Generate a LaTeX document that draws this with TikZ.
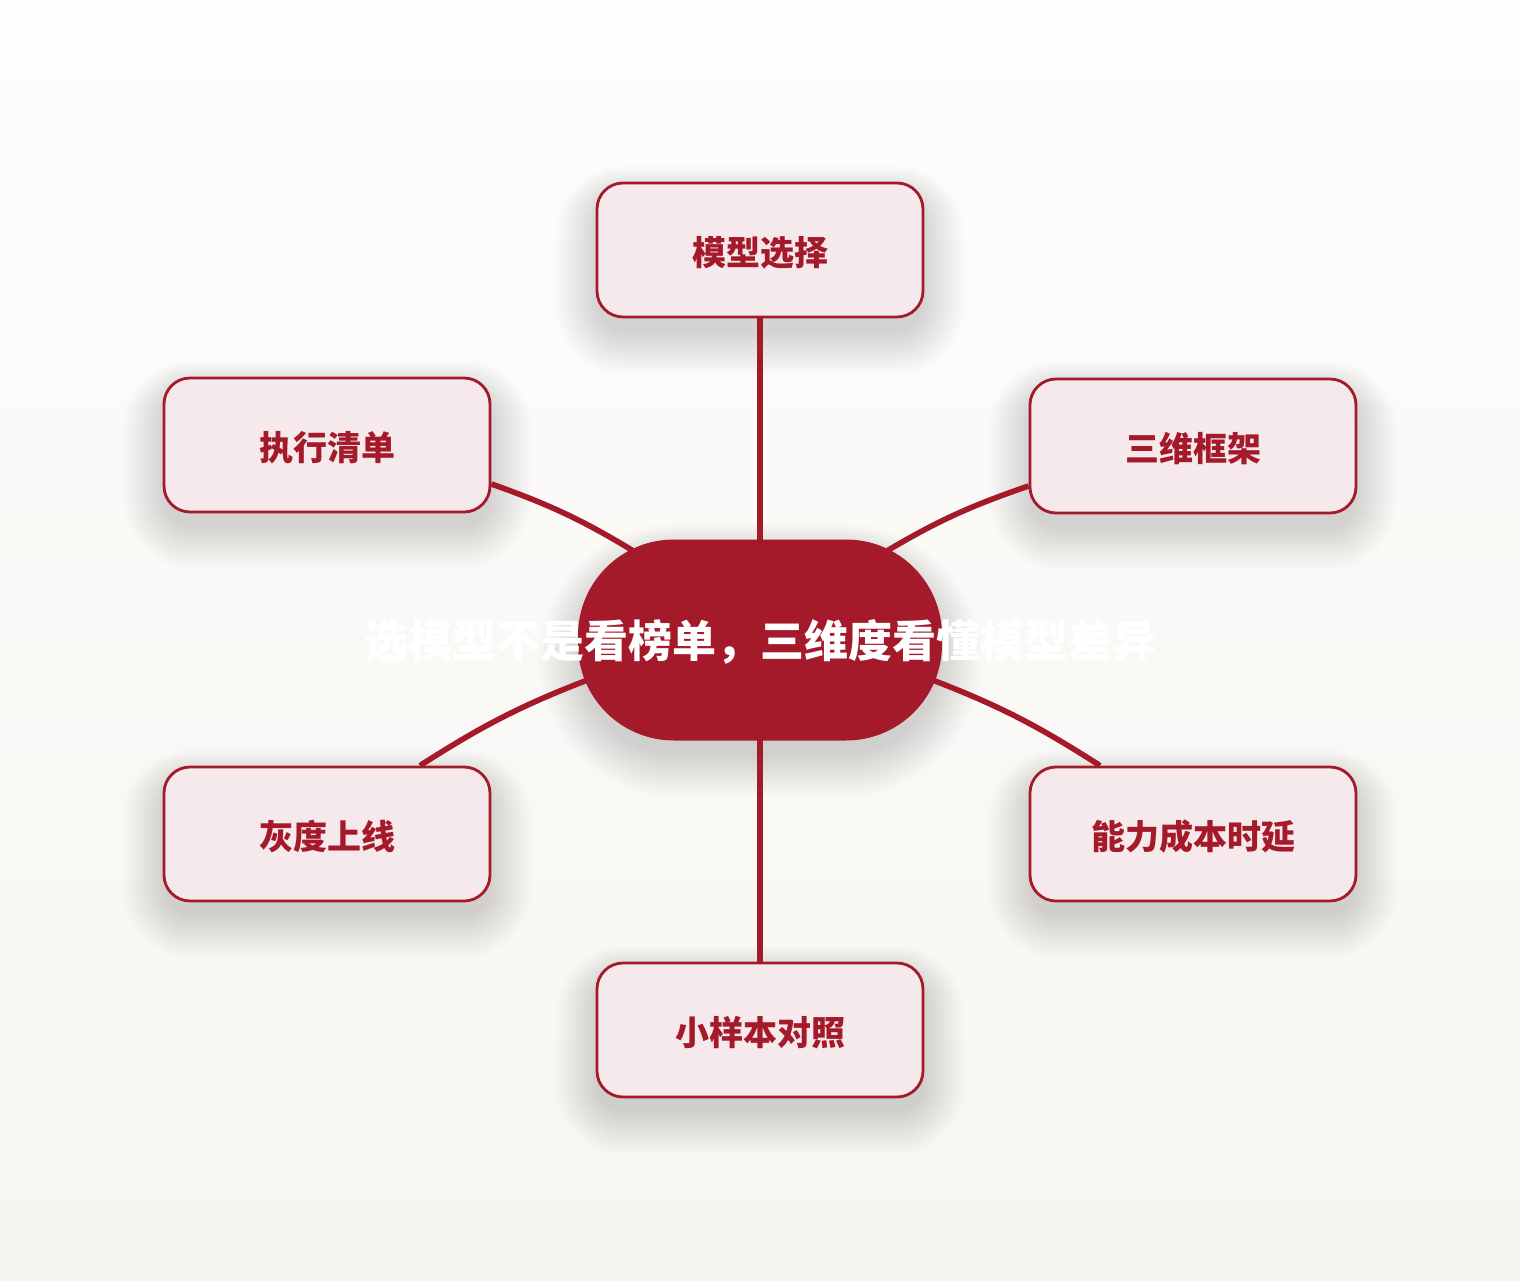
\documentclass[tikz,border=0pt]{standalone}
\usepackage{fontspec}
\setmainfont{Noto Sans CJK SC}
\usetikzlibrary{calc}
\definecolor{dred}{HTML}{A51A2A}
\definecolor{pinkfill}{HTML}{F5E9EB}
\definecolor{bgtop}{HTML}{FDFDFC}
\definecolor{bgbot}{HTML}{F7F5F1}
\pgfdeclarelayer{back}
\pgfdeclarelayer{shadow}
\pgfdeclarelayer{lines}
\pgfsetlayers{back,shadow,lines,main}
\tikzset{
  leaf/.style={draw=dred, line width=1.4pt, fill=pinkfill, rounded corners=13pt,
    minimum width=163pt, minimum height=67pt, inner sep=0pt},
  leaftext/.style={inner sep=0pt, font=\bfseries\fontsize{17}{20}\selectfont, text=dred},
  hub/.style={fill=dred, rounded corners=48pt, minimum width=182pt,
    minimum height=100.5pt, inner sep=0pt},
  hubtext/.style={text=white, inner sep=0pt, font=\bfseries\fontsize{22}{26}\selectfont},
  conn/.style={draw=dred, line width=2.8pt},
}
\newcommand\mysoftshadow[2]{%
  \foreach \i in {1,...,20}{%
    \fill[black, opacity=0.0075, rounded corners={#2+\i*1.1pt}]
      ([shift={(-\i*1.1pt+2pt,-\i*1.1pt-6pt)}]#1.south west) rectangle
      ([shift={(\i*1.1pt-2pt,\i*0.8pt-8pt)}]#1.north east);
  }%
}
\begin{document}
\begin{tikzpicture}[x=0.5pt,y=-0.5pt]
\useasboundingbox (0,0) rectangle (1520,1280);
\begin{pgfonlayer}{back}
  \shade[top color=bgtop, bottom color=bgbot] (0,0) rectangle (1520,1280);
\end{pgfonlayer}

\node[hub] (hub) at (760,640) {};
\node[hubtext] (title) at (760,642) {选模型不是看榜单，三维度看懂模型差异};

\node[leaf] (m1) at (760,250) {};
\node[leaf] (m2) at (1193,446) {};
\node[leaf] (m3) at (1193,834) {};
\node[leaf] (m4) at (760,1030) {};
\node[leaf] (m5) at (327,834) {};
\node[leaf] (m6) at (327,445) {};
\node[leaftext] at ([yshift=-1.5pt]m1.center) {模型选择};
\node[leaftext] at ([yshift=-1.5pt]m2.center) {三维框架};
\node[leaftext] at ([yshift=-1.5pt]m3.center) {能力成本时延};
\node[leaftext] at ([yshift=-1.5pt]m4.center) {小样本对照};
\node[leaftext] at ([yshift=-1.5pt]m5.center) {灰度上线};
\node[leaftext] at ([yshift=-1.5pt]m6.center) {执行清单};

\begin{pgfonlayer}{shadow}
  \mysoftshadow{hub}{48pt}
  \mysoftshadow{m1}{13pt}
  \mysoftshadow{m2}{13pt}
  \mysoftshadow{m3}{13pt}
  \mysoftshadow{m4}{13pt}
  \mysoftshadow{m5}{13pt}
  \mysoftshadow{m6}{13pt}
\end{pgfonlayer}

\begin{pgfonlayer}{lines}
  \draw[conn] (m1.south) -- (hub.center);
  \draw[conn] (m4.north) -- (hub.center);
  \draw[conn] ([yshift=-19.5pt]m6.east) to[bend left=6] ([shift={(-60pt,42.5pt)}]hub.center);
  \draw[conn] ([yshift=-20pt]m2.west) to[bend right=6] ([shift={(60pt,42.5pt)}]hub.center);
  \draw[conn] ([xshift=46.5pt]m5.north) to[bend left=6] ([shift={(-81pt,-18pt)}]hub.center);
  \draw[conn] ([xshift=-46.5pt]m3.north) to[bend right=6] ([shift={(81pt,-18pt)}]hub.center);
\end{pgfonlayer}
\end{tikzpicture}
\end{document}
